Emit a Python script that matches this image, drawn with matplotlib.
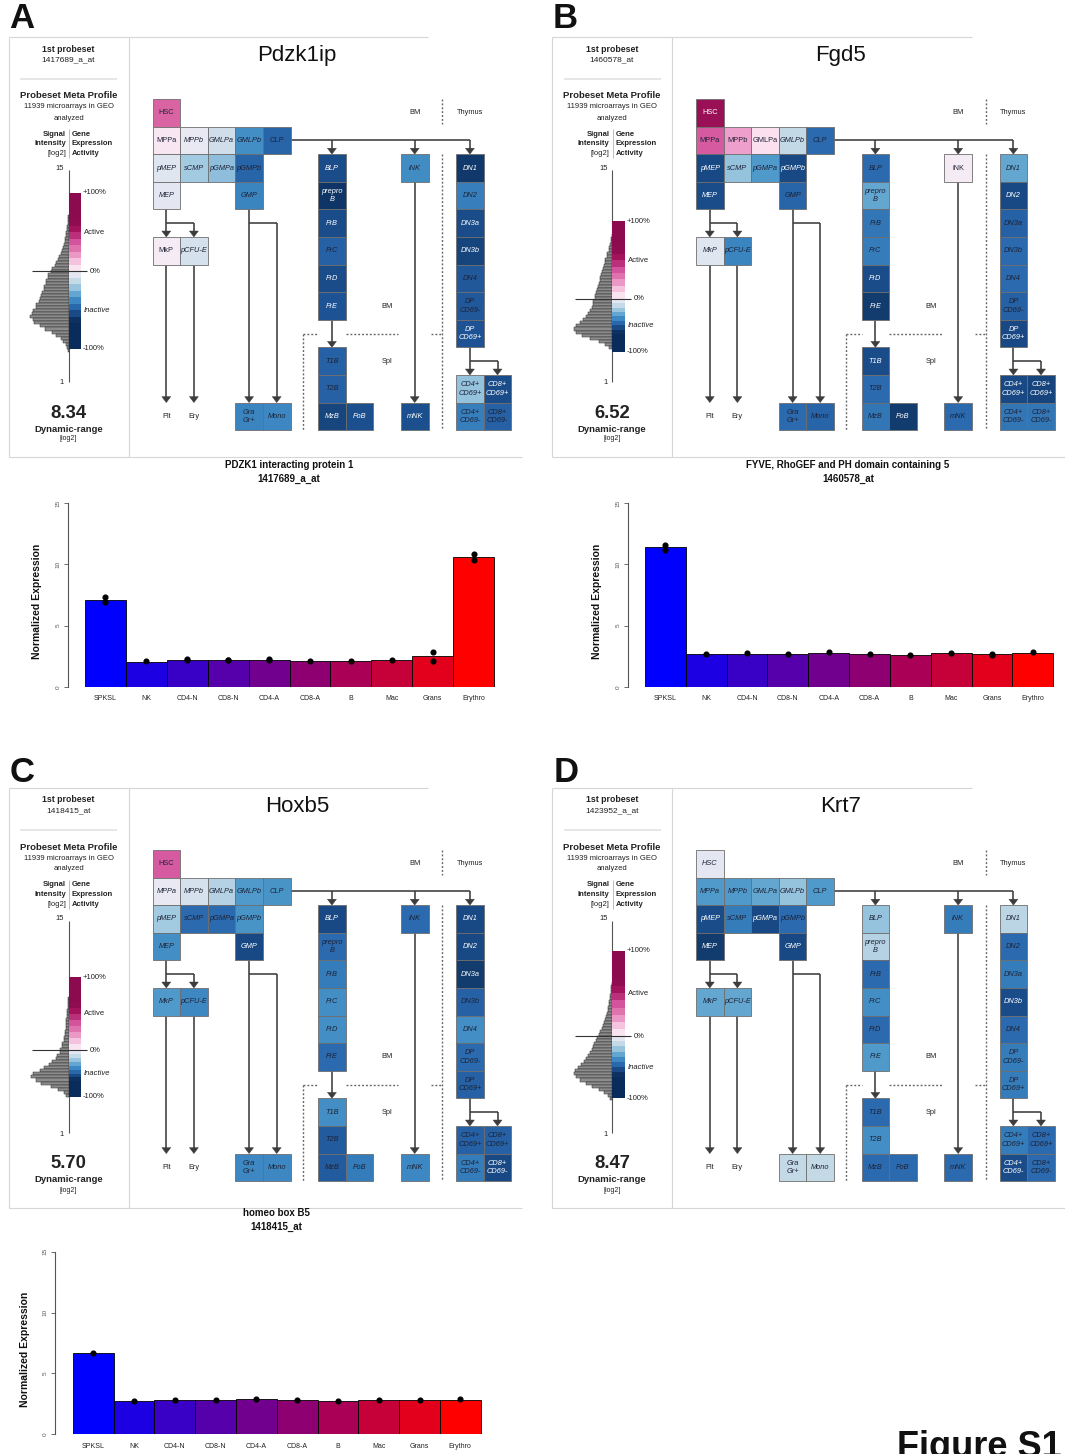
import matplotlib
matplotlib.use('Agg')
import matplotlib.pyplot as plt
from matplotlib.patches import Rectangle, Polygon
from matplotlib.colors import LinearSegmentedColormap
import numpy as np

plt.rcParams['font.family'] = ['Liberation Sans', 'DejaVu Sans']

W, H = 1065, 1454

# ---------------- data ----------------
cells = ['HSC', 'MPPa', 'MPPb', 'GMLPa', 'GMLPb', 'CLP', 'pMEP', 'sCMP', 'pGMPa', 'pGMPb',
         'MEP', 'GMP', 'MkP', 'pCFU-E', 'Gra\nGr+', 'Mono', 'BLP', 'prepro\nB', 'FrB', 'FrC',
         'FrD', 'FrE', 'T1B', 'T2B', 'MzB', 'FoB', 'iNK', 'mNK', 'DN1', 'DN2', 'DN3a', 'DN3b',
         'DN4', 'DP\nCD69-', 'DP\nCD69+', 'CD4+\nCD69+', 'CD8+\nCD69+', 'CD4+\nCD69-', 'CD8+\nCD69-']

genes = ['Pdzk1ip', 'Fgd5', 'Hoxb5', 'Krt7']
probes = ['1417689_a_at', '1460578_at', '1418415_at', '1423952_a_at']
dyn_range = ['8.34', '6.52', '5.70', '8.47']

# gene expression activity (-1 .. +1) per cell population
act_A = [0.5, 0.05, -0.05, -0.15, -0.55, -0.72, -0.08, -0.3, -0.35, -0.72,
         -0.07, -0.6, 0.02, -0.13, -0.6, -0.58, -0.83, -0.95, -0.83, -0.74,
         -0.83, -0.8, -0.74, -0.74, -0.86, -0.82, -0.57, -0.82, -0.93, -0.62,
         -0.83, -0.87, -0.78, -0.78, -0.8, -0.33, -0.83, -0.62, -0.74]
act_B = [0.9, 0.55, 0.3, 0.1, -0.2, -0.7, -0.85, -0.33, -0.5, -0.85,
         -0.83, -0.72, -0.08, -0.6, -0.7, -0.72, -0.7, -0.45, -0.65, -0.63,
         -0.83, -0.92, -0.83, -0.7, -0.65, -0.92, 0.02, -0.7, -0.45, -0.85,
         -0.74, -0.7, -0.7, -0.74, -0.85, -0.85, -0.87, -0.65, -0.65]
act_C = [0.55, -0.05, -0.13, -0.25, -0.5, -0.53, -0.3, -0.7, -0.7, -0.53,
         -0.55, -0.85, -0.5, -0.58, -0.58, -0.58, -0.85, -0.7, -0.63, -0.55,
         -0.55, -0.7, -0.55, -0.76, -0.76, -0.63, -0.7, -0.58, -0.85, -0.85,
         -0.92, -0.74, -0.55, -0.7, -0.74, -0.74, -0.74, -0.63, -0.85]
act_D = [-0.07, -0.5, -0.5, -0.45, -0.33, -0.5, -0.83, -0.63, -0.85, -0.7,
         -0.92, -0.85, -0.45, -0.45, -0.2, -0.2, -0.33, -0.25, -0.7, -0.55,
         -0.7, -0.5, -0.7, -0.55, -0.7, -0.7, -0.63, -0.7, -0.22, -0.7,
         -0.63, -0.83, -0.7, -0.63, -0.63, -0.63, -0.7, -0.83, -0.7]
acts = [act_A, act_B, act_C, act_D]

# meta-profile: colour bar (+100%, 0%, -100%) in log2 signal, histogram of signal
cb_A = [13.5, 8.3, 3.2]
cb_B = [11.6, 6.5, 3.0]
cb_C = [11.3, 6.45, 3.4]
cb_D = [13.05, 7.4, 3.3]
cbs = [cb_A, cb_B, cb_C, cb_D]
hist_top = [12.0, 10.8, 10.0, 11.0]
hist_A = [0.5, 0.8, 0.9, 1.3, 1.7, 2.3, 2.6, 3.3, 3.8, 4.9, 5.3, 7.0, 7.4, 9.2, 10.3,
          12.8, 13.6, 16.9, 17.5, 20.4, 20.8, 22.9, 22.6, 25.0, 24.4, 26.5, 27.1, 28.6,
          29.7, 32.4, 32.6, 35.5, 36.4, 38.8, 35.4, 34.2, 28.5, 23.4, 16.6, 12.3, 7.6,
          5.2, 2.8, 1.9, 0.9]
hist_B = [0.5, 1.0, 1.3, 2.3, 2.8, 3.4, 4.6, 5.1, 6.6, 7.0, 8.1, 8.6, 9.9, 10.9, 11.6,
          12.1, 13.4, 13.8, 15.4, 15.6, 16.9, 17.2, 18.8, 19.1, 20.5, 21.6, 24.1, 26.0,
          29.3, 32.0, 35.6, 38.2, 36.1, 30.4, 21.8, 12.8, 7.3, 2.6]
hist_C = [0.3, 0.5, 0.6, 1.0, 1.1, 1.5, 1.7, 2.1, 2.2, 2.7, 2.9, 3.6, 3.8, 4.7, 4.9,
          6.2, 6.8, 8.3, 8.7, 11.2, 12.6, 16.4, 19.5, 24.6, 28.7, 35.4, 37.2, 32.6, 27.4,
          17.6, 10.3, 4.8, 2.1]
hist_D = [0.5, 0.8, 1.1, 1.2, 1.7, 2.0, 2.6, 2.9, 3.6, 3.9, 5.1, 5.8, 7.2, 7.8, 9.3,
          9.8, 12.2, 12.7, 15.3, 15.8, 18.2, 18.7, 20.4, 21.6, 24.3, 25.8, 28.4, 30.6,
          34.3, 36.8, 38.2, 35.6, 32.4, 25.7, 20.3, 12.6, 8.2, 3.8, 1.9]
hists = [hist_A, hist_B, hist_C, hist_D]

# bar charts
bar_cats = ['SPKSL', 'NK', 'CD4-N', 'CD8-N', 'CD4-A', 'CD8-A', 'B', 'Mac', 'Grans', 'Erythro']
bar_A = [7.1, 2.05, 2.2, 2.15, 2.2, 2.1, 2.1, 2.2, 2.5, 10.6]
pts_A = [[7.35, 6.9], [2.1], [2.2, 2.25], [2.15, 2.2], [2.2, 2.25], [2.1], [2.1], [2.2],
         [2.8, 2.1], [10.85, 10.4]]
bar_B = [11.4, 2.65, 2.7, 2.7, 2.75, 2.65, 2.6, 2.75, 2.65, 2.75]
pts_B = [[11.6, 11.2], [2.65], [2.75], [2.7], [2.8], [2.7], [2.6], [2.75], [2.7, 2.6], [2.8]]
bar_C = [6.65, 2.74, 2.82, 2.82, 2.9, 2.82, 2.74, 2.82, 2.8, 2.82]
pts_C = [[6.7], [2.75], [2.8], [2.82], [2.92], [2.82], [2.74], [2.85], [2.78], [2.88]]
bar_titles = [('PDZK1 interacting protein 1', '1417689_a_at'),
              ('FYVE, RhoGEF and PH domain containing 5', '1460578_at'),
              ('homeo box B5', '1418415_at')]

# ---------------- style / layout ----------------
cmap = LinearSegmentedColormap.from_list('gec', [
    (0.00, '#0A2C5A'), (0.05, '#143F73'), (0.10, '#1D5395'), (0.15, '#2B6AAE'),
    (0.20, '#3A85C0'), (0.25, '#4E9ACA'), (0.30, '#78B2D7'), (0.35, '#A3CAE0'),
    (0.40, '#C3D9E6'), (0.45, '#DCE4EF'), (0.50, '#F4EEF5'), (0.55, '#FBE1EF'),
    (0.65, '#EFA0CB'), (0.75, '#DA65A4'), (0.80, '#D2509A'), (0.90, '#A8165F'),
    (1.00, '#8C0A50')])
def col(v):
    return cmap((v + 1) / 2)

grid_pos = [(0, 0), (0, 1), (1, 1), (2, 1), (3, 1), (4, 1), (0, 2), (1, 2), (2, 2), (3, 2),
            (0, 3), (3, 3), (0, 5), (1, 5), (3, 11), (4, 11), (6, 2), (6, 3), (6, 4), (6, 5),
            (6, 6), (6, 7), (6, 9), (6, 10), (6, 11), (7, 11), (9, 2), (9, 11), (11, 2), (11, 3),
            (11, 4), (11, 5), (11, 6), (11, 7), (11, 8), (11, 10), (12, 10), (11, 11), (12, 11)]
S = 27.6
MAP_X0, MAP_Y0 = 152.5, 99.0
offsets = [(0, 0), (543.5, 0), (0, 751), (543.5, 751)]
LC = '#3c3c3c'
LW = 1.15

fig = plt.figure(figsize=(W / 100, H / 100), dpi=100)
fig.patch.set_facecolor('white')
ov = fig.add_axes([0, 0, 1, 1])
ov.set_xlim(0, W)
ov.set_ylim(H, 0)
ov.axis('off')


def line(xs, ys, **kw):
    d = dict(color=LC, lw=LW, solid_capstyle='butt', zorder=2)
    d.update(kw)
    ov.plot(xs, ys, **d)


def varrow(x, ya, yb):
    line([x, x], [ya, yb - 5])
    ov.add_patch(Polygon([(x - 4.5, yb - 6), (x + 4.5, yb - 6), (x, yb)], closed=True,
                         facecolor=LC, edgecolor=LC, lw=0.3, zorder=2))


def dotted(xs, ys):
    ov.plot(xs, ys, color='#666666', lw=1.0, ls=(0, (1.4, 1.4)), zorder=1)


def draw_map(ox, oy, act, gene):
    x0, y0 = MAP_X0 + ox, MAP_Y0 + oy
    X = lambda c: x0 + c * S
    Y = lambda r: y0 + r * S
    for name, (c, r), v in zip(cells, grid_pos, act):
        ov.add_patch(Rectangle((X(c), Y(r)), S, S, facecolor=col(v), edgecolor='#6e6e6e',
                               lw=0.6, zorder=3))
        ov.text(X(c + 0.5), Y(r + 0.5), name, ha='center', va='center', fontsize=5.3,
                style='italic' if v < 0 else 'normal', linespacing=1.35,
                color='white' if (v <= -0.8 or v >= 0.75) else '#1e2236', zorder=4)
    # MEP -> MkP / pCFU-E
    varrow(X(0.5), Y(4), Y(5))
    line([X(0.5), X(1.5)], [Y(4.5), Y(4.5)])
    varrow(X(1.5), Y(4.5), Y(5))
    varrow(X(0.5), Y(6), Y(11))
    varrow(X(1.5), Y(6), Y(11))
    ov.text(X(0.5), Y(11.5), 'Plt', ha='center', va='center', fontsize=5.3, color='#222')
    ov.text(X(1.5), Y(11.5), 'Ery', ha='center', va='center', fontsize=5.3, color='#222')
    # GMP -> Gra / Mono
    varrow(X(3.5), Y(4), Y(11))
    line([X(3.5), X(4.5)], [Y(4.5), Y(4.5)])
    varrow(X(4.5), Y(4.5), Y(11))
    # CLP branches
    line([X(5), X(11.5)], [Y(1.5), Y(1.5)])
    for c in (6.5, 9.5, 11.5):
        varrow(X(c), Y(1.5), Y(2))
    varrow(X(6.5), Y(8), Y(9))
    varrow(X(9.5), Y(3), Y(11))
    varrow(X(11.5), Y(9), Y(10))
    line([X(11.5), X(12.5)], [Y(9.5), Y(9.5)])
    varrow(X(12.5), Y(9.5), Y(10))
    # compartments
    dotted([X(10.5), X(10.5)], [Y(0.0), Y(0.9)])
    dotted([X(10.5), X(10.5)], [Y(2.0), Y(12.0)])
    dotted([X(5.45), X(5.45)], [Y(8.5), Y(12.0)])
    dotted([X(5.45), X(6.0)], [Y(8.5), Y(8.5)])
    dotted([X(7.0), X(8.9)], [Y(8.5), Y(8.5)])
    dotted([X(10.1), X(10.5)], [Y(8.5), Y(8.5)])
    for t, c, r in (('BM', 9.5, 0.5), ('Thymus', 11.5, 0.5), ('BM', 8.5, 7.5), ('Spl', 8.5, 9.5)):
        ov.text(X(c), Y(r), t, ha='center', va='center', fontsize=5.3, color='#222')
    ov.text(ox + 297, oy + 56, gene, ha='center', va='center', fontsize=16, color='#111')


def draw_frame(ox, oy):
    fc = '#d6d6d6'
    line([ox + 8.5, ox + 8.5], [oy + 36.5, oy + 456.5], color=fc, lw=0.8)
    line([ox + 128.5, ox + 128.5], [oy + 36.5, oy + 456.5], color=fc, lw=0.8)
    line([ox + 8.5, ox + 428], [oy + 36.5, oy + 36.5], color=fc, lw=0.8)
    line([ox + 8.5, ox + 521.5], [oy + 456.5, oy + 456.5], color=fc, lw=0.8)
    line([ox + 20, ox + 117], [oy + 79, oy + 79], color='#e2e2e2', lw=1.2)


def draw_sidebar(ox, oy, probe, dyn, cb, htop, hw):
    cx = ox + 68.5
    y15, y1 = oy + 170.0, oy + 382.0
    ys = lambda v: y15 + (15 - v) * (y1 - y15) / 14.0
    tk = dict(ha='center', va='center', color='#222')
    ov.text(cx, oy + 49, '1st probeset', fontsize=6.3, fontweight='bold', **tk)
    ov.text(cx, oy + 60, probe, fontsize=6.0, **tk)
    ov.text(cx, oy + 96, 'Probeset Meta Profile', fontsize=6.8, fontweight='bold', **tk)
    ov.text(cx, oy + 107, '11939 microarrays in GEO', fontsize=5.5, **tk)
    ov.text(cx, oy + 118, 'analyzed', fontsize=5.5, **tk)
    for i, (a, b) in enumerate((('Signal', 'Gene'), ('Intensity', 'Expression'), ('[log2]', 'Activity'))):
        ov.text(ox + 66, oy + 134 + i * 9.8, a, ha='right', va='center', fontsize=5.5,
                fontweight='normal' if i == 2 else 'bold', color='#222')
        ov.text(ox + 72, oy + 134 + i * 9.8, b, ha='left', va='center', fontsize=5.5,
                fontweight='bold', color='#222')
    line([ox + 69, ox + 69], [oy + 129, oy + 158], color='#bdbdbd', lw=0.7)
    ov.text(ox + 64, y15 - 2, '15', ha='right', va='center', fontsize=5.5, color='#222')
    ov.text(ox + 64, y1 + 1, '1', ha='right', va='center', fontsize=5.5, color='#222')
    line([cx, cx], [y15, y1], color='#555555', lw=0.8)
    # histogram of signal intensities
    binh = 0.2
    centers = [htop - binh * (i + 0.5) for i in range(len(hw))]
    ov.barh([ys(c) for c in centers], [-w for w in hw], height=binh * (y1 - y15) / 14.0,
            left=cx, color='#8c8c8c', edgecolor='#2a2a2a', lw=0.35, zorder=2)
    # activity colour bar
    top, zero, bot = cb
    n = 12
    for k in range(n):
        lv = (k + 0.5) / n
        for sgn, lo, hi in ((1, zero, top), (-1, bot, zero)):
            span = hi - lo
            a = lo + span * k / n if sgn > 0 else hi - span * (k + 1) / n
            b = a + span / n
            ov.barh([(ys(a) + ys(b)) / 2], [12.5], height=abs(ys(a) - ys(b)), left=cx,
                    color=col(sgn * min(1.0, lv * 1.55)), lw=0, zorder=3)
    line([ox + 31.5, ox + 87], [ys(zero), ys(zero)], color='#333333', lw=0.8, zorder=4)
    lk = dict(va='center', fontsize=5.5, color='#222')
    ov.text(ox + 83, ys(top), '+100%', ha='left', **lk)
    ov.text(ox + 84, ys((top + zero) / 2), 'Active', ha='left', **lk)
    ov.text(ox + 90, ys(zero), '0%', ha='left', **lk)
    ov.text(ox + 84, ys((zero + bot) / 2), 'Inactive', ha='left', style='italic', **lk)
    ov.text(ox + 83, ys(bot), '-100%', ha='left', **lk)
    ov.text(cx, oy + 413, dyn, fontsize=13.3, fontweight='bold', **tk)
    ov.text(cx, oy + 429, 'Dynamic-range', fontsize=6.8, fontweight='bold', **tk)
    ov.text(cx, oy + 439, '[log2]', fontsize=5.0, **tk)


for i, (ox, oy) in enumerate(offsets):
    draw_frame(ox, oy)
    draw_sidebar(ox, oy, probes[i], dyn_range[i], cbs[i], hist_top[i], hists[i])
    draw_map(ox, oy, acts[i], genes[i])

for t, (x, y) in zip('ABCD', [(22, 19), (565, 19), (22, 773), (566, 773)]):
    ov.text(x, y, t, ha='center', va='center', fontsize=25, fontweight='bold', color='#111')

# the reference shows this label clipped by the bottom edge of the page
ov.text(897, 1430, 'Figure S1', ha='left', va='top', fontsize=26, fontweight='bold',
        color='#111', clip_on=False)

# ---------------- bar charts ----------------
bar_colors = [(k / 9, 0, 1 - k / 9) for k in range(len(bar_cats))]


def bar_panel(vals, pts, title, axis_px, bl_px, br_px, y15_px, y0_px, tx, ty, ylx):
    unit = (br_px - bl_px) / len(vals)
    pad = (bl_px - axis_px) / unit
    rpad = 2.0
    ax = fig.add_axes([axis_px / W, 1 - y0_px / H, (br_px + rpad - axis_px) / W,
                       (y0_px - y15_px) / H])
    ax.patch.set_alpha(0)
    x = np.arange(len(vals))
    ax.bar(x, vals, width=1.0, color=bar_colors, edgecolor='black', lw=0.6, zorder=2)
    for k, p in enumerate(pts):
        ax.plot([k] * len(p), p, 'o', color='black', ms=3.4, zorder=4, clip_on=False)
    ax.set_xlim(-0.5 - pad, len(vals) - 0.5 + rpad / unit)
    ax.set_ylim(0, 15)
    for s in ('top', 'right', 'bottom'):
        ax.spines[s].set_visible(False)
    ax.spines['left'].set_bounds(0, 15)
    ax.spines['left'].set_color('#555555')
    ax.spines['left'].set_linewidth(0.8)
    ax.set_yticks([0, 5, 10, 15])
    ax.set_yticklabels(['0', '5', '10', '15'], rotation=90, va='center', fontsize=4.6,
                       color='#666666')
    ax.tick_params(axis='y', length=3, width=0.6, colors='#555555', pad=2.5)
    ax.set_xticks(x)
    ax.set_xticklabels(bar_cats, fontsize=5.0, color='#222222')
    ax.tick_params(axis='x', length=0, pad=6)
    ov.text(tx, ty, title[0], ha='center', va='center', fontsize=7, fontweight='bold', color='#111')
    ov.text(tx, ty + 13.5, title[1], ha='center', va='center', fontsize=7, fontweight='bold',
            color='#111')
    ov.text(ylx, (y15_px + y0_px) / 2 + 6, 'Normalized Expression', rotation=90, ha='center',
            va='center', fontsize=7.5, fontweight='bold', color='#111')


bar_panel(bar_A, pts_A, bar_titles[0], 68.3, 85.0, 494.0, 503.3, 686.7, 289, 465.5, 37.5)
bar_panel(bar_B, pts_B, bar_titles[1], 628.3, 645.0, 1053.3, 503.3, 686.7, 848, 465.5, 597.5)
bar_panel(bar_C, pts_C, bar_titles[2], 55.0, 72.7, 480.7, 1251.7, 1434.3, 276.5, 1213.5, 25.0)

fig.savefig('out.png', dpi=100, facecolor='white')
